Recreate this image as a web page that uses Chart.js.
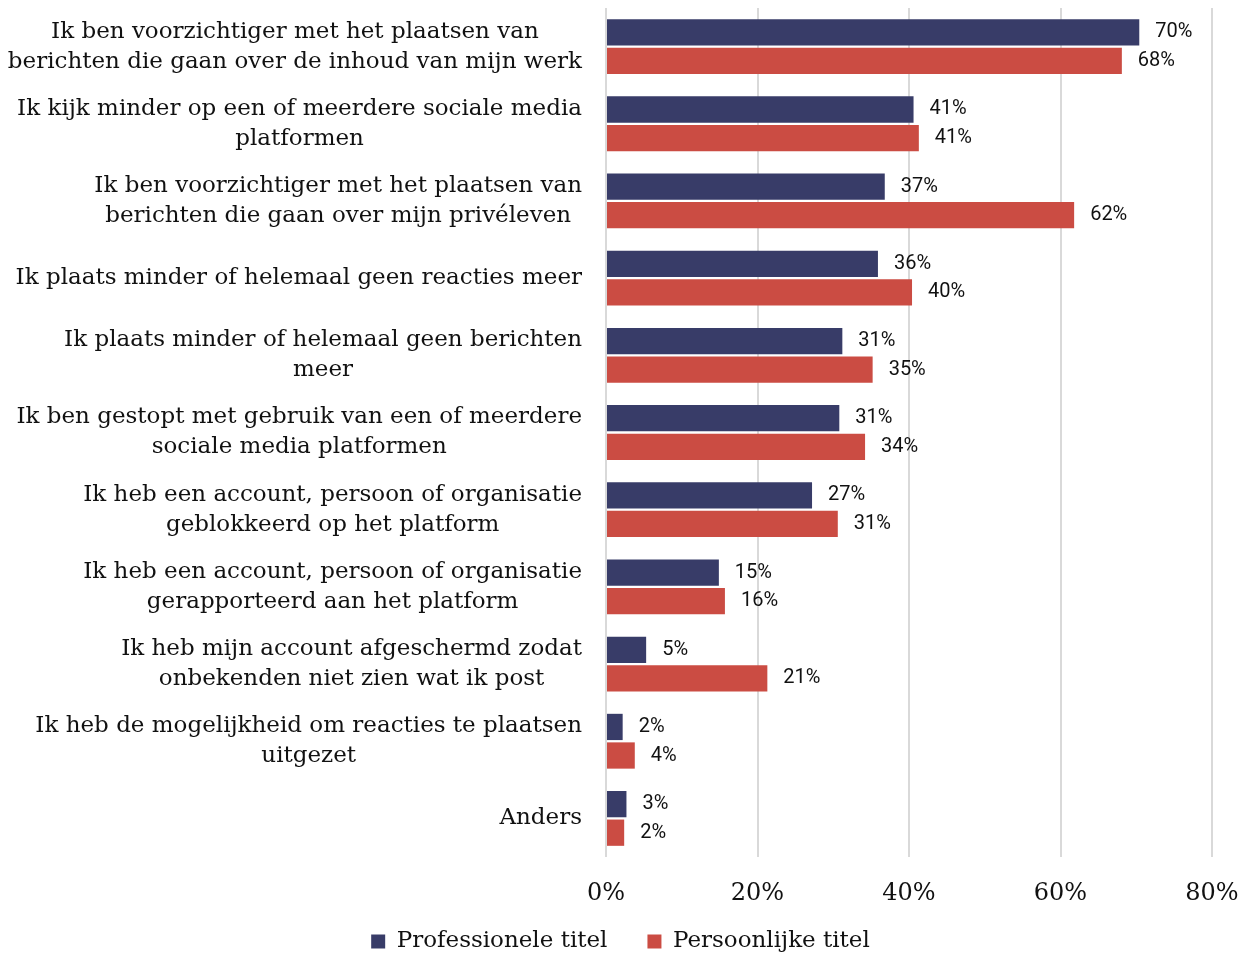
<!DOCTYPE html>
<html>
<head>
<meta charset="utf-8">
<script src="https://cdn.jsdelivr.net/npm/chart.js@4"></script>
<style>
  html, body { margin: 0; padding: 0; background: #fff; }
  #wrap { width: 1241px; height: 955px; position: relative; }
</style>
</head>
<body>
<div id="wrap"><canvas id="chart"></canvas></div>
<script>
const categories = [
  ['Ik ben voorzichtiger met het plaatsen van', 'berichten die gaan over de inhoud van mijn werk'],
  ['Ik kijk minder op een of meerdere sociale media', 'platformen'],
  ['Ik ben voorzichtiger met het plaatsen van', 'berichten die gaan over mijn privéleven'],
  ['Ik plaats minder of helemaal geen reacties meer'],
  ['Ik plaats minder of helemaal geen berichten', 'meer'],
  ['Ik ben gestopt met gebruik van een of meerdere', 'sociale media platformen'],
  ['Ik heb een account, persoon of organisatie', 'geblokkeerd op het platform'],
  ['Ik heb een account, persoon of organisatie', 'gerapporteerd aan het platform'],
  ['Ik heb mijn account afgeschermd zodat', 'onbekenden niet zien wat ik post'],
  ['Ik heb de mogelijkheid om reacties te plaatsen', 'uitgezet'],
  ['Anders'],
]
const professioneel = [70.4, 40.6, 36.8, 35.9, 31.2, 30.8, 27.2, 14.9, 5.3, 2.2, 2.7]
const persoonlijk = [68.1, 41.3, 61.8, 40.4, 35.2, 34.2, 30.6, 15.7, 21.3, 3.8, 2.4]
const xTicks = [0, 20, 40, 60, 80]

const serif = '"DejaVu Serif", "Liberation Serif", serif'

// category labels: block right-aligned, lines centred within the block
const categoryLabels = {
  id: 'categoryLabels',
  afterDraw(chart) {
    const ctx = chart.ctx
    const yScale = chart.scales.y
    const right = 582
    const lineHeight = 30
    ctx.save()
    ctx.font = '23px ' + serif
    ctx.fillStyle = '#111'
    ctx.textAlign = 'center'
    ctx.textBaseline = 'middle'
    categories.forEach((lines, i) => {
      const y = yScale.getPixelForValue(i)
      const maxW = Math.max(...lines.map((l) => ctx.measureText(l).width))
      const cx = right - maxW / 2
      const y0 = y - ((lines.length - 1) * lineHeight) / 2
      lines.forEach((l, j) => ctx.fillText(l, cx, y0 + j * lineHeight))
    })
    ctx.restore()
  },
}

// value labels next to each bar
const valueLabels = {
  id: 'valueLabels',
  afterDatasetsDraw(chart) {
    const ctx = chart.ctx
    ctx.save()
    ctx.font = '20px Roboto, sans-serif'
    ctx.fillStyle = '#111'
    ctx.textAlign = 'left'
    ctx.textBaseline = 'middle'
    chart.data.datasets.forEach((ds, di) => {
      chart.getDatasetMeta(di).data.forEach((bar, i) => {
        ctx.fillText(Math.round(ds.data[i]) + '%', bar.x + 16, bar.y)
      })
    })
    ctx.restore()
  },
}

// x axis box is squeezed so the legend sits close; let its labels draw past it
const xLabelRoom = {
  id: 'xLabelRoom',
  afterLayout(chart) {
    chart.scales.x.bottom = chart.height
  },
}

new Chart(document.getElementById('chart'), {
  type: 'bar',
  data: {
    labels: categories.map((c) => c.join(' ')),
    datasets: [
      {
        label: 'Professionele titel',
        data: professioneel,
        backgroundColor: '#383c68',
        categoryPercentage: 0.74,
        barPercentage: 0.92,
      },
      {
        label: 'Persoonlijke titel',
        data: persoonlijk,
        backgroundColor: '#cb4c43',
        categoryPercentage: 0.74,
        barPercentage: 0.92,
      },
    ],
  },
  options: {
    indexAxis: 'y',
    responsive: true,
    maintainAspectRatio: false,
    animation: false,
    layout: {
      padding: { left: 0, right: 0, top: 8, bottom: -8 },
    },
    scales: {
      x: {
        min: 0,
        max: 80,
        afterBuildTicks: (scale) => {
          scale.ticks = xTicks.map((v) => ({ value: v }))
        },
        afterFit: (scale) => {
          // room for the last tick label on the right, legend sits close below
          scale.paddingLeft = 0
          scale.paddingRight = 29
          scale.height = 33
        },
        grid: {
          color: '#d9d9d9',
          lineWidth: 2,
          drawTicks: false,
        },
        border: { display: false },
        ticks: {
          padding: 22,
          color: '#111',
          font: { family: serif, size: 24 },
          callback: (v) => v + '%',
        },
      },
      y: {
        grid: { display: false },
        border: { display: false },
        ticks: { display: false },
        afterFit: (scale) => {
          scale.width = 606
        },
      },
    },
    plugins: {
      legend: {
        position: 'bottom',
        labels: {
          boxWidth: 14,
          boxHeight: 14,
          padding: 40,
          color: '#111',
          font: { family: serif, size: 23 },
        },
      },
      tooltip: { enabled: false },
    },
  },
  plugins: [categoryLabels, valueLabels, xLabelRoom],
})
</script>
</body>
</html>
